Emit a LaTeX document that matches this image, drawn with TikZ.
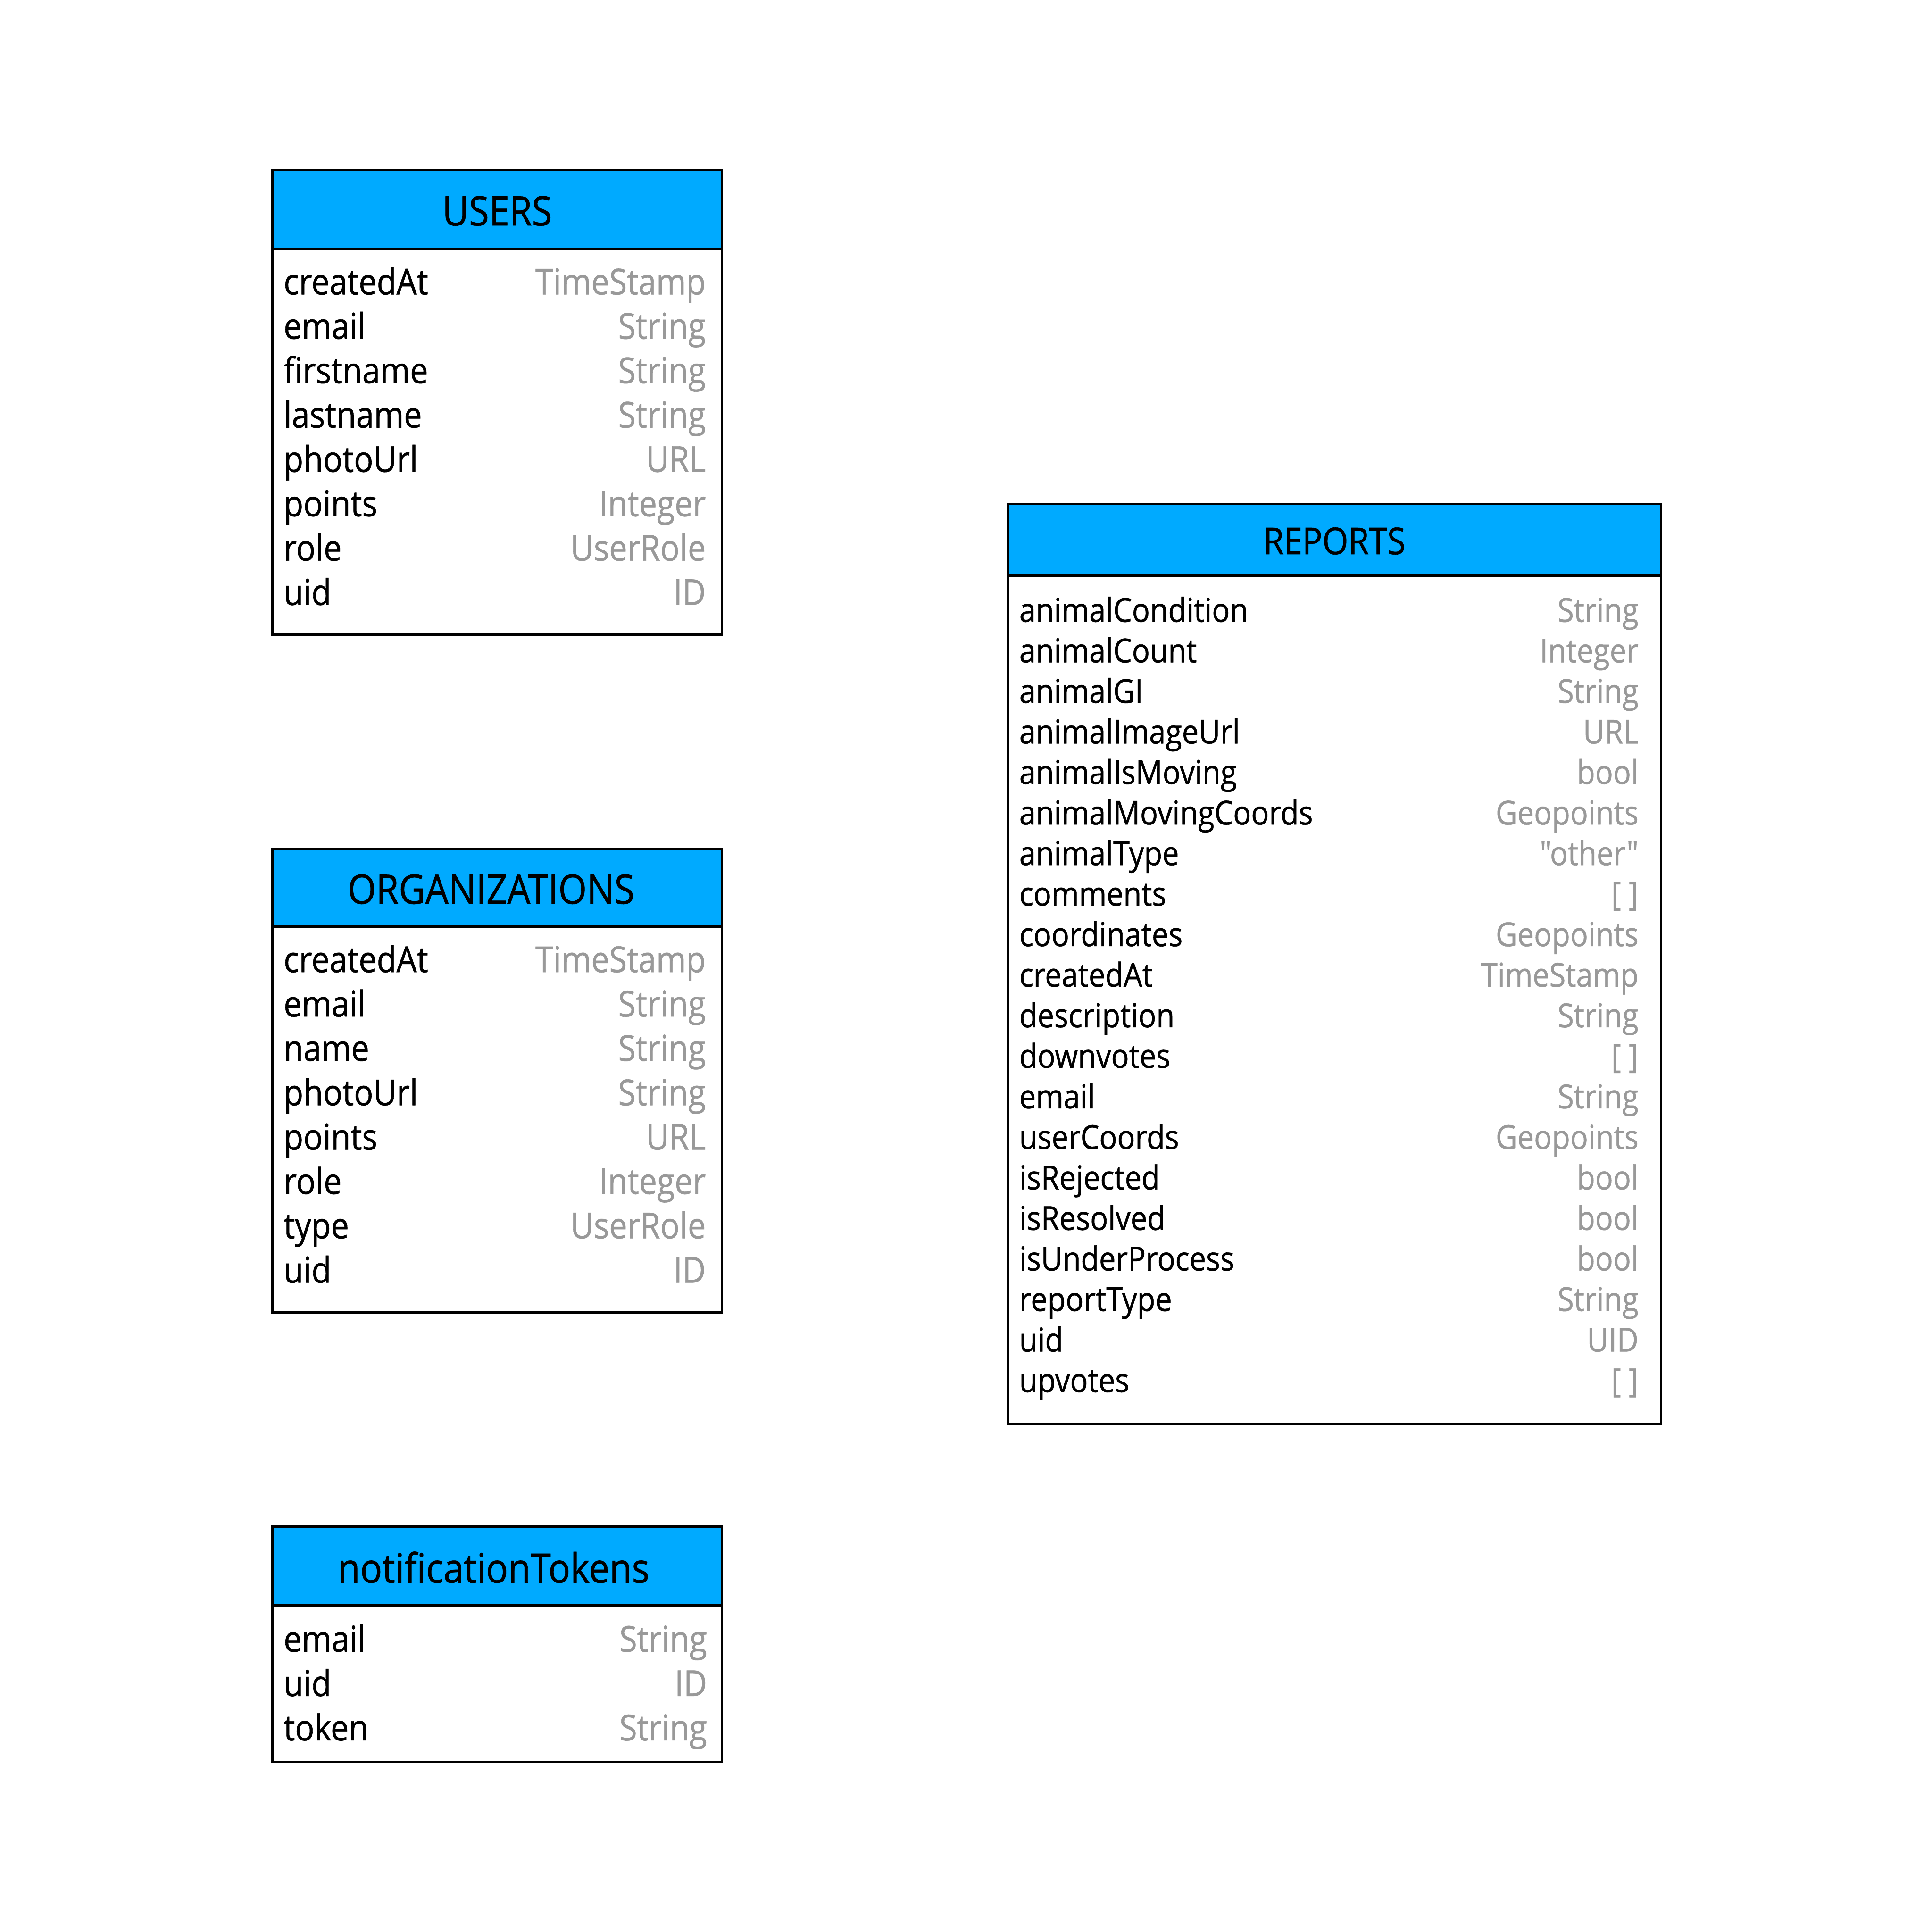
\documentclass[tikz,border=0pt]{standalone}
\usepackage{fontspec}
\setmainfont[FakeStretch=0.9, FakeBold=0.8, Ligatures=TeXOff]{Open Sans}
\definecolor{hdrblue}{RGB}{0,170,255}
\definecolor{typegray}{RGB}{153,153,153}
\begin{document}
\begin{tikzpicture}[x=1pt,y=-1pt,
  tblbox/.style={draw=black, line width=2pt},
  hdrbox/.style={draw=black, line width=2pt, fill=hdrblue},
  ttl/.style={anchor=base, inner sep=0pt, font=\fontsize{33}{33}\selectfont},
  rttl/.style={anchor=base, inner sep=0pt, font=\fontsize{30}{30}\selectfont},
  fld/.style={anchor=base west, inner sep=0pt, font=\fontsize{29}{29}\selectfont},
  typ/.style={anchor=base east, inner sep=0pt, text=typegray, font=\fontsize{29}{29}\selectfont},
  rfld/.style={anchor=base west, inner sep=0pt, font=\fontsize{26.8}{26.8}\selectfont},
  rtyp/.style={anchor=base east, inner sep=0pt, text=typegray, font=\fontsize{26.8}{26.8}\selectfont}]
\useasboundingbox (0,0) rectangle (1568,1568);
\fill[white] (0,0) rectangle (1568,1568);

% USERS
\draw[tblbox] (221,202) rectangle (586,515);
\draw[hdrbox] (221,138) rectangle (586,202);
\node[ttl] (usersT) at (403.5,183) {USERS};
\foreach \f/\t [count=\i from 0] in {createdAt/TimeStamp,email/String,firstname/String,lastname/String,photoUrl/URL,points/Integer,role/UserRole,uid/ID}{
  \node[fld] (uf\i) at (230,239+36*\i) {\f};
  \node[typ] (ut\i) at (573,239+36*\i) {\t};
}

% ORGANIZATIONS
\draw[tblbox] (221,752) rectangle (586,1065);
\draw[hdrbox] (221,689) rectangle (586,752);
\node[ttl] (orgT) at (398.5,733.5) {ORGANIZATIONS};
\foreach \f/\t [count=\i from 0] in {createdAt/TimeStamp,email/String,name/String,photoUrl/String,points/URL,role/Integer,type/UserRole,uid/ID}{
  \node[fld] (of\i) at (230,789+36*\i) {\f};
  \node[typ] (ot\i) at (573,789+36*\i) {\t};
}

% notificationTokens
\draw[tblbox] (221,1303) rectangle (586,1430);
\draw[hdrbox] (221,1239) rectangle (586,1303);
\node[ttl] (ntT) at (400.5,1284.5) {notificationTokens};
\foreach \f/\t [count=\i from 0] in {email/String,uid/ID,token/String}{
  \node[fld] (nf\i) at (230,1340.5+36*\i) {\f};
  \node[typ] (nt\i) at (574,1340.5+36*\i) {\t};
}

% REPORTS
\draw[tblbox] (818,467) rectangle (1348,1156);
\draw[hdrbox] (818,409) rectangle (1348,467);
\node[rttl] (repT) at (1083,449.8) {REPORTS};
\foreach \f/\t [count=\i from 0] in {animalCondition/String,animalCount/Integer,animalGI/String,animalImageUrl/URL,animalIsMoving/bool,animalMovingCoords/Geopoints,animalType/"other",comments/{[ ]},coordinates/Geopoints,createdAt/TimeStamp,description/String,downvotes/{[ ]},email/String,userCoords/Geopoints,isRejected/bool,isResolved/bool,isUnderProcess/bool,reportType/String,uid/UID,upvotes/{[ ]}}{
  \node[rfld] (rf\i) at (827,504.7+32.9*\i) {\f};
  \node[rtyp] (rt\i) at (1330,504.7+32.9*\i) {\t};
}
\end{tikzpicture}
\end{document}
